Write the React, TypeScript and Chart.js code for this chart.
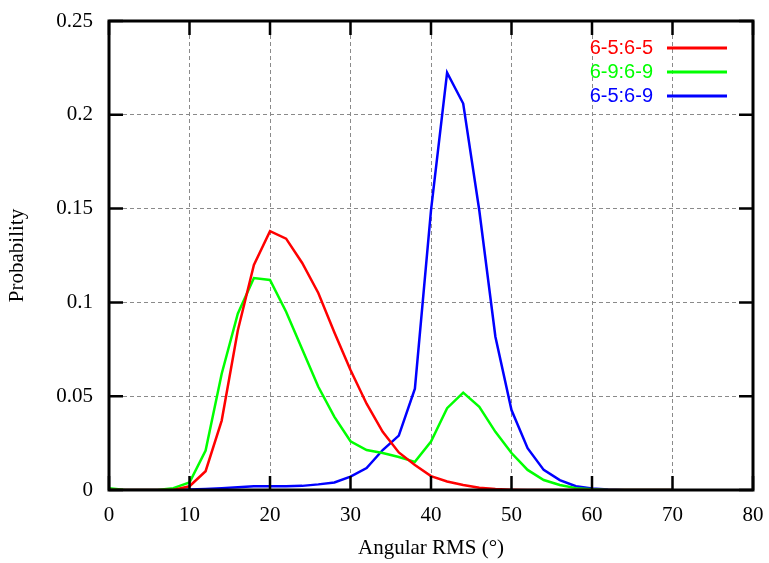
import { useEffect, useRef } from "react";
import { Chart, registerables } from "chart.js";

Chart.register(...registerables);

// Angular RMS (degrees) sample positions
const angles = [0, 2, 4, 6, 8, 10, 12, 14, 16, 18, 20, 22, 24, 26, 28, 30, 32, 34, 36, 38, 40, 42, 44, 46, 48, 50, 52, 54, 56, 58, 60, 62, 64, 66, 68, 70];

const seriesLabels = ["6-5:6-5", "6-9:6-9", "6-5:6-9"];
const seriesColors = ["#ff0000", "#00ff00", "#0000ff"];

const prob65_65 = [0, 0, 0, 0, 0, 0.002, 0.010, 0.037, 0.085, 0.120, 0.138, 0.134, 0.121, 0.105, 0.084, 0.064, 0.046, 0.031, 0.020, 0.0133, 0.0074, 0.0045, 0.0027, 0.0012, 0.0005, 0.0002, 0, 0, 0, 0, 0, 0, 0, 0, 0, 0];
const prob69_69 = [0.001, 0, 0, 0, 0.001, 0.004, 0.021, 0.062, 0.094, 0.113, 0.112, 0.095, 0.075, 0.055, 0.039, 0.026, 0.0213, 0.0197, 0.0176, 0.015, 0.0258, 0.0436, 0.0519, 0.0444, 0.031, 0.0197, 0.0107, 0.0053, 0.0027, 0.001, 0.0004, 0, 0, 0, 0, 0];
const prob65_69 = [0, 0, 0, 0, 0, 0.0003, 0.0006, 0.001, 0.0015, 0.002, 0.002, 0.002, 0.0022, 0.003, 0.004, 0.0071, 0.0117, 0.0213, 0.029, 0.054, 0.149, 0.2225, 0.206, 0.149, 0.0817, 0.0426, 0.0223, 0.0107, 0.0053, 0.002, 0.0008, 0.0003, 0, 0, 0, 0];

const xMin = 0, xMax = 80, xStep = 10;
const yMin = 0, yMax = 0.25, yStep = 0.05;
const xTitle = "Angular RMS (°)";
const yTitle = "Probability";

const serifFont = '"Liberation Serif", "Times New Roman", serif';
const sansFont = '"Liberation Sans", Arial, sans-serif';

const framePlugin = {
  id: "gnuFrame",
  afterDatasetsDraw(chart: any) {
    const { ctx, chartArea } = chart;
    const { left, right, top, bottom } = chartArea;
    const xs = chart.scales.x;
    const ys = chart.scales.y;
    ctx.save();
    ctx.strokeStyle = "#000";
    ctx.lineWidth = 2.5;
    ctx.lineCap = "butt";
    const tl = 14;
    ctx.beginPath();
    xs.ticks.forEach((t: any) => {
      const px = xs.getPixelForValue(t.value);
      ctx.moveTo(px, bottom);
      ctx.lineTo(px, bottom - tl);
      ctx.moveTo(px, top);
      ctx.lineTo(px, top + tl);
    });
    ys.ticks.forEach((t: any) => {
      const py = ys.getPixelForValue(t.value);
      ctx.moveTo(left, py);
      ctx.lineTo(left + tl, py);
      ctx.moveTo(right, py);
      ctx.lineTo(right - tl, py);
    });
    ctx.stroke();
    ctx.lineWidth = 3;
    ctx.lineJoin = "miter";
    ctx.strokeRect(left, top, right - left, bottom - top);

    // key (legend): label right-aligned, then a line sample
    ctx.font = "20px " + sansFont;
    ctx.textAlign = "right";
    ctx.textBaseline = "middle";
    chart.data.datasets.forEach((ds: any, i: number) => {
      const y = top + 27 + i * 24;
      ctx.fillStyle = ds.borderColor;
      ctx.fillText(ds.label, right - 100, y);
      ctx.strokeStyle = ds.borderColor;
      ctx.lineWidth = 3;
      ctx.beginPath();
      ctx.moveTo(right - 86, y);
      ctx.lineTo(right - 26, y);
      ctx.stroke();
    });
    ctx.restore();
  },
};

export default function App() {
  const ref = useRef<HTMLCanvasElement | null>(null);

  useEffect(() => {
    if (!ref.current) return;
    const seriesData = [prob65_65, prob69_69, prob65_69];
    const chart = new Chart(ref.current, {
      type: "line",
      data: {
        datasets: seriesData.map((vals, i) => ({
          label: seriesLabels[i],
          data: angles.map((a, j) => ({ x: a, y: vals[j] })),
          borderColor: seriesColors[i],
          backgroundColor: seriesColors[i],
          borderWidth: 2.5,
          pointRadius: 0,
          tension: 0,
          fill: false,
        })),
      },
      options: {
        responsive: false,
        animation: false,
        layout: { padding: { top: 21, right: 16, left: 0, bottom: 0 } },
        plugins: {
          legend: { display: false },
          tooltip: { enabled: false },
        },
        scales: {
          x: {
            type: "linear",
            min: xMin,
            max: xMax,
            afterFit: (s: any) => {
              s.height = 73;
              s.paddingLeft = 0;
              s.paddingRight = 0;
            },
            ticks: {
              stepSize: xStep,
              color: "#000",
              padding: 13,
              maxRotation: 0,
              font: { family: serifFont, size: 21 },
            },
            grid: {
              color: "#8a8a8a",
              lineWidth: 1,
              drawTicks: false,
            },
            border: { display: false, dash: [4, 3] },
            title: {
              display: true,
              text: xTitle,
              color: "#000",
              font: { family: serifFont, size: 21 },
              padding: { top: 0, bottom: 2 },
            },
          },
          y: {
            type: "linear",
            min: yMin,
            max: yMax,
            afterFit: (s: any) => {
              s.width = 109;
              s.paddingTop = 0;
              s.paddingBottom = 0;
            },
            ticks: {
              stepSize: yStep,
              color: "#000",
              padding: 16,
              font: { family: serifFont, size: 21 },
              callback: (v: any) => String(Math.round(Number(v) * 100) / 100),
            },
            grid: {
              color: "#8a8a8a",
              lineWidth: 1,
              drawTicks: false,
            },
            border: { display: false, dash: [4, 3] },
            title: {
              display: true,
              text: yTitle,
              color: "#000",
              font: { family: serifFont, size: 21 },
              padding: { top: 5, bottom: 0 },
            },
          },
        },
      },
      plugins: [framePlugin],
    } as any);
    return () => chart.destroy();
  }, []);

  return (
    <div style={{ position: "fixed", left: 0, top: 0, width: 769, height: 563, background: "#fff" }}>
      <canvas ref={ref} width={769} height={563} style={{ width: 769, height: 563, display: "block" }} />
    </div>
  );
}
